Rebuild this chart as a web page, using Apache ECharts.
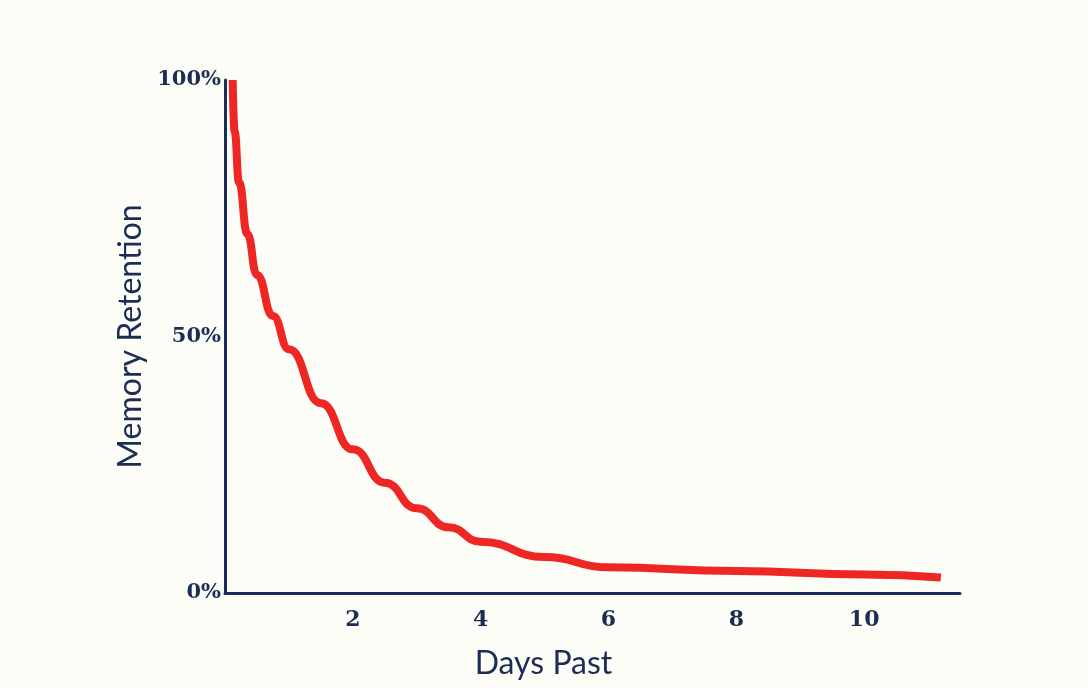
<!DOCTYPE html>
<html>
<head>
<meta charset="utf-8">
<script src="https://cdn.jsdelivr.net/npm/echarts@6/dist/echarts.min.js"></script>
<style>
  html, body { margin: 0; background: #fdfdf8; }
  #chart { width: 1088px; height: 688px; }
</style>
</head>
<body>
<div id="chart"></div>
<script>
// days past vs. memory retention (%)
var days = [0.12, 0.15, 0.22, 0.35, 0.5, 0.75, 1, 1.5, 2, 2.5, 3, 3.5, 4, 5, 6, 8, 10, 11.2];
var retention = [100, 90, 80, 70, 62, 54, 47.5, 37, 28, 21.5, 16.5, 12.8, 10, 7, 5, 4.3, 3.6, 3];
var yTicks = [0, 50, 100];

var navy = '#1c2d55';
var chart = echarts.init(document.getElementById('chart'));
chart.setOption({
  backgroundColor: '#fdfdf8',
  animation: false,
  grid: { left: 225, right: 128, top: 80, bottom: 95 },
  xAxis: {
    type: 'value', min: 0, max: 11.5, interval: 2,
    name: 'Days Past', nameLocation: 'middle', nameGap: 55,
    nameTextStyle: { color: navy, fontSize: 32, fontFamily: 'Lato', padding: [0, 98, 0, 0] },
    axisLine: { lineStyle: { color: navy, width: 3 } },
    axisTick: { show: false },
    splitLine: { show: false },
    axisLabel: {
      color: navy, fontSize: 22, fontWeight: 'bold', fontFamily: 'DejaVu Serif', margin: 16,
      showMaxLabel: false,
      formatter: function (v) { return v === 0 || v > 11 ? '' : v; }
    }
  },
  yAxis: {
    type: 'value', min: 0, max: 100, interval: 50,
    name: 'Memory Retention', nameLocation: 'middle', nameGap: 75,
    nameTextStyle: { color: navy, fontSize: 32, fontFamily: 'Lato' },
    axisLine: { show: true, lineStyle: { color: navy, width: 3 } },
    axisTick: { show: false },
    splitLine: { show: false },
    axisLabel: {
      color: navy, fontSize: 21, fontWeight: 'bold', fontFamily: 'DejaVu Serif', margin: 4,
      formatter: function (v) { return yTicks.indexOf(v) >= 0 ? v + '%' : ''; }
    }
  },
  series: [{
    type: 'line',
    data: days.map(function (d, i) { return [d, retention[i]]; }),
    smooth: 0.5,
    smoothMonotone: 'x',
    showSymbol: false,
    lineStyle: { color: '#ee2624', width: 8 }
  }]
});
</script>
</body>
</html>
